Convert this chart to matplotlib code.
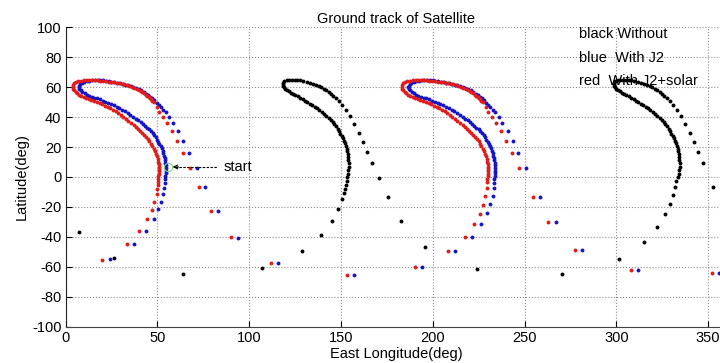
import matplotlib
matplotlib.use('Agg')
import matplotlib.pyplot as plt

plt.rcParams['font.family'] = ['Liberation Sans', 'DejaVu Sans']
plt.rcParams['axes.unicode_minus'] = False

# ---------------- data (lon, lat) ----------------
black_loop1_inner = [(118.3,61.0),(118.8,59.9),(119.6,58.9),(120.6,58.0),(121.7,57.1),(122.9,56.2),(124.0,55.3),(125.2,54.5),(126.5,53.7),(127.8,52.8),(129.1,51.9),(130.4,51.0),(131.7,50.0),(133.0,49.0),(134.3,48.0),(135.6,46.9),(136.9,45.8),(138.2,44.7),(139.5,43.5),(140.8,42.2),(142.0,40.9),(143.2,39.5),(144.3,38.1),(145.4,36.7),(146.4,35.2),(147.3,33.7),(148.2,32.2),(149.0,30.6),(149.7,29.0),(150.4,27.4),(151.0,25.8),(151.6,24.2),(152.1,22.5),(152.6,20.8),(153.0,19.0),(153.4,17.2),(153.7,15.3),(153.9,13.4),(154.0,11.3),(154.1,9.1),(154.1,6.9),(153.9,4.5),(153.7,2.2),(153.4,0.2),(153.1,-2.6),(152.7,-5.3),(152.2,-7.8),(151.6,-10.4),(150.4,-14.9),(148.2,-21.6),(144.9,-29.3),(138.9,-38.7),(128.9,-49.3),(107.0,-60.9),(64.1,-64.7)]
black_loop1_outer = [(118.2,62.0),(118.4,63.0),(119.2,63.8),(120.4,64.4),(121.8,64.7),(123.3,64.8),(124.8,64.8),(126.3,64.7),(127.8,64.5),(129.5,64.0),(131.3,63.5),(133.0,62.9),(134.7,62.2),(136.3,61.4),(137.8,60.6),(139.2,59.7),(140.6,58.8),(142.0,57.8),(143.3,56.8),(144.5,55.6),(145.6,54.3),(147.2,52.9),(148.8,50.9),(150.6,48.3),(152.6,45.0),(154.9,41.0),(157.3,35.5),(159.9,29.4),(161.8,23.6),(164.0,16.9),(167.1,9.1),(170.5,-0.9),(175.4,-13.5),(182.9,-29.5),(195.9,-46.9),(224.2,-61.6)]
black_loop2_inner = [(298.6,61.0),(299.1,59.9),(299.9,58.9),(300.9,58.0),(302.0,57.1),(303.2,56.2),(304.3,55.3),(305.5,54.5),(306.8,53.7),(308.1,52.8),(309.4,51.9),(310.7,51.0),(312.0,50.0),(313.3,49.0),(314.6,48.0),(315.9,46.9),(317.2,45.8),(318.5,44.7),(319.8,43.5),(321.1,42.2),(322.3,40.9),(323.5,39.5),(324.6,38.1),(325.7,36.7),(326.7,35.2),(327.6,33.7),(328.5,32.2),(329.3,30.6),(330.0,29.0),(330.7,27.4),(331.3,25.8),(331.9,24.2),(332.4,22.5),(332.9,20.8),(333.3,19.0),(333.7,17.2),(334.0,15.3),(334.2,13.4),(334.3,11.3),(334.4,9.1),(334.4,6.9),(334.2,4.5),(334.0,2.2),(333.4,0.0),(332.5,-2.7),(331.9,-6.9),(330.7,-12.0),(329.2,-18.0),(326.3,-24.7),(322.1,-33.1),(315.0,-43.3),(301.4,-54.9),(270.4,-64.4)]
black_loop2_outer = [(298.5,62.0),(298.7,63.0),(299.5,63.8),(300.7,64.4),(302.1,64.7),(303.6,64.8),(305.1,64.8),(306.6,64.7),(308.1,64.5),(309.8,64.0),(311.6,63.5),(313.3,62.9),(315.0,62.2),(316.6,61.4),(318.1,60.6),(319.5,59.7),(320.9,58.8),(322.3,57.8),(323.6,56.8),(324.8,55.6),(325.9,54.3),(327.5,52.9),(329.1,50.9),(330.9,48.3),(332.9,45.0),(335.2,41.0),(337.6,35.5),(340.2,29.4),(342.1,23.6),(344.3,16.9),(347.4,9.1),(352.4,-6.4),(7.5,-36.7),(26.4,-54.2)]

blue_loop1_outer = [(7.3,59.8),(7.4,60.8),(8.0,61.9),(9.0,62.8),(10.2,63.5),(11.6,64.0),(13.0,64.3),(14.5,64.5),(16.0,64.6),(17.5,64.6),(19.0,64.5),(20.5,64.4),(22.0,64.2),(23.5,63.9),(25.0,63.6),(26.5,63.2),(28.0,62.8),(29.5,62.4),(31.0,62.0),(32.5,61.6),(34.0,61.2),(35.5,60.7),(36.9,60.2),(38.3,59.5),(39.8,58.7),(41.2,57.7),(42.6,56.7),(43.9,55.6),(45.0,54.7),(46.2,53.6),(47.3,52.5),(48.4,51.2),(49.6,49.6),(50.8,48.0),(52.0,46.4),(53.3,44.8),(54.5,43.3),(56.5,39.8),(58.5,35.8),(61.4,30.4),(64.1,24.0),(67.2,15.8),(71.4,6.2),(75.9,-6.9),(82.8,-22.4),(93.7,-40.9),(115.9,-57.1),(157.1,-65.1)]
blue_loop1_inner = [(7.5,58.8),(8.2,57.7),(9.2,56.7),(10.3,55.7),(11.5,54.9),(12.8,54.2),(14.2,53.6),(15.6,53.0),(17.1,52.4),(18.7,51.8),(20.2,51.0),(21.7,50.2),(23.2,49.4),(24.7,48.6),(26.2,47.8),(27.8,46.9),(29.3,46.0),(30.8,45.0),(32.3,43.9),(33.8,42.8),(35.3,41.6),(36.9,40.2),(38.3,39.0),(39.7,37.8),(41.0,36.6),(42.2,35.4),(43.3,34.2),(44.4,33.0),(45.5,31.8),(46.5,30.5),(47.4,29.2),(48.3,27.8),(49.1,26.4),(49.8,25.0),(50.5,23.6),(51.1,22.2),(51.7,20.7),(52.3,19.1),(52.8,17.5),(53.2,15.9),(53.6,14.2),(53.9,12.6),(54.2,11.0),(54.4,9.4),(54.5,7.8),(54.6,6.0),(54.6,4.3),(54.5,2.5),(54.4,0.6),(54.2,-1.5),(54.0,-4.0),(53.7,-7.3),(53.2,-11.6),(52.0,-16.4),(50.3,-21.6),(48.0,-28.2),(43.8,-36.0),(37.3,-44.9),(24.2,-54.9)]
blue_loop2_outer = [(186.7,59.8),(186.8,60.8),(187.4,61.9),(188.4,62.8),(189.6,63.5),(191.0,64.0),(192.4,64.3),(193.9,64.5),(195.4,64.6),(196.9,64.6),(198.4,64.5),(199.9,64.4),(201.4,64.2),(202.9,63.9),(204.4,63.6),(205.9,63.2),(207.4,62.8),(208.9,62.4),(210.4,62.0),(211.9,61.6),(213.4,61.2),(214.9,60.7),(216.3,60.2),(217.7,59.5),(219.2,58.7),(220.6,57.7),(222.0,56.7),(223.3,55.6),(224.4,54.7),(225.6,53.6),(226.7,52.5),(227.8,51.2),(229.0,49.6),(230.2,48.0),(231.4,46.4),(232.7,44.8),(233.9,43.3),(235.9,39.8),(237.9,35.8),(240.8,30.4),(243.5,24.0),(246.6,15.8),(250.8,6.2),(258.4,-13.6),(266.9,-30.2),(281.4,-48.4),(311.6,-62.2),(355.7,-64.0)]
blue_loop2_inner = [(186.9,58.8),(187.6,57.7),(188.6,56.7),(189.7,55.7),(190.9,54.9),(192.2,54.2),(193.6,53.6),(195.0,53.0),(196.5,52.4),(198.1,51.8),(199.6,51.0),(201.1,50.2),(202.6,49.4),(204.1,48.6),(205.6,47.8),(207.2,46.9),(208.7,46.0),(210.2,45.0),(211.7,43.9),(213.2,42.8),(214.7,41.6),(216.3,40.2),(217.7,39.0),(219.1,37.8),(220.4,36.6),(221.6,35.4),(222.7,34.2),(223.8,33.0),(224.9,31.8),(225.9,30.5),(226.8,29.2),(227.7,27.8),(228.5,26.4),(229.2,25.0),(229.9,23.6),(230.5,22.2),(231.1,20.7),(231.7,19.1),(232.2,17.5),(232.6,15.9),(233.0,14.2),(233.3,12.6),(233.6,11.0),(233.8,9.4),(233.9,7.8),(234.0,6.0),(234.0,4.3),(233.9,2.5),(233.8,0.6),(233.6,-1.5),(233.5,-4.0),(233.5,-7.1),(232.6,-12.7),(231.2,-18.2),(229.4,-24.2),(226.3,-31.3),(221.3,-39.8),(212.3,-49.3),(194.3,-59.8)]

red_loop1_outer = [(4.2,60.2),(4.2,61.3),(4.8,62.4),(5.8,63.3),(7.0,63.9),(8.5,64.3),(10.0,64.5),(11.5,64.6),(13.0,64.6),(14.5,64.6),(16.0,64.5),(17.5,64.4),(19.0,64.2),(20.5,64.0),(22.0,63.8),(23.5,63.6),(25.0,63.4),(26.5,63.2),(27.8,63.0),(29.2,62.6),(30.6,62.1),(32.0,61.7),(33.3,61.2),(34.7,60.6),(36.0,60.0),(37.4,59.4),(38.7,58.7),(39.8,58.0),(40.8,57.2),(41.8,56.5),(42.7,55.8),(43.6,55.0),(44.5,54.3),(45.3,53.6),(46.0,52.9),(46.7,52.0),(47.3,51.0),(48.3,49.8),(50.0,46.9),(51.0,43.5),(53.2,40.2),(55.1,35.8),(58.1,30.4),(60.9,24.0),(63.8,16.2),(67.8,6.2),(72.7,-6.9),(79.2,-22.4),(90.1,-40.2),(111.9,-57.1),(153.1,-65.1)]
red_loop1_inner = [(4.3,59.0),(4.8,57.8),(5.5,56.7),(6.4,55.7),(7.4,54.8),(8.6,54.0),(9.9,53.3),(11.3,52.6),(12.7,52.0),(14.1,51.5),(15.5,51.0),(17.0,50.2),(18.5,49.4),(20.0,48.5),(21.5,47.6),(23.0,46.6),(24.4,45.7),(25.8,44.7),(27.2,43.7),(28.6,42.6),(30.0,41.5),(31.4,40.2),(32.8,38.9),(34.2,37.6),(35.6,36.2),(37.0,34.7),(38.3,33.3),(39.5,32.0),(40.6,30.7),(41.7,29.4),(42.8,28.0),(43.8,26.6),(44.8,25.2),(45.7,23.7),(46.5,22.2),(47.3,20.6),(48.0,19.0),(48.7,17.3),(49.3,15.5),(49.8,13.7),(50.2,11.9),(50.5,10.2),(50.7,8.5),(50.8,6.9),(50.8,5.3),(50.8,3.7),(50.7,2.1),(50.6,0.4),(50.5,-1.3),(50.3,-3.2),(50.1,-5.3),(49.9,-7.7),(49.6,-11.6),(48.3,-16.4),(46.9,-22.0),(44.2,-28.2),(40.1,-36.0),(33.3,-44.9),(20.0,-55.3)]
red_loop2_outer = [(183.4,60.2),(183.4,61.3),(184.0,62.4),(185.0,63.3),(186.2,63.9),(187.7,64.3),(189.2,64.5),(190.7,64.6),(192.2,64.6),(193.7,64.6),(195.2,64.5),(196.7,64.4),(198.2,64.2),(199.7,64.0),(201.2,63.8),(202.7,63.6),(204.2,63.4),(205.7,63.2),(207.0,63.0),(208.4,62.6),(209.8,62.1),(211.2,61.7),(212.5,61.2),(213.9,60.6),(215.2,60.0),(216.6,59.4),(217.9,58.7),(219.0,58.0),(220.0,57.2),(221.0,56.5),(221.9,55.8),(222.8,55.0),(223.7,54.3),(224.5,53.6),(225.2,52.9),(225.9,52.0),(226.5,51.0),(227.5,49.8),(229.2,46.9),(230.2,43.5),(232.4,40.2),(234.3,35.8),(237.3,30.4),(240.1,24.0),(243.0,16.2),(247.0,6.2),(254.7,-13.6),(262.9,-30.2),(277.6,-48.4),(307.8,-62.2),(352.1,-64.0)]
red_loop2_inner = [(183.5,59.0),(184.0,57.8),(184.7,56.7),(185.6,55.7),(186.6,54.8),(187.8,54.0),(189.1,53.3),(190.5,52.6),(191.9,52.0),(193.3,51.5),(194.7,51.0),(196.2,50.2),(197.7,49.4),(199.2,48.5),(200.7,47.6),(202.2,46.6),(203.6,45.7),(205.0,44.7),(206.4,43.7),(207.8,42.6),(209.2,41.5),(210.6,40.2),(212.0,38.9),(213.4,37.6),(214.8,36.2),(216.2,34.7),(217.5,33.3),(218.7,32.0),(219.8,30.7),(220.9,29.4),(222.0,28.0),(223.0,26.6),(224.0,25.2),(224.9,23.7),(225.7,22.2),(226.5,20.6),(227.2,19.0),(227.9,17.3),(228.5,15.5),(229.0,13.7),(229.4,11.9),(229.7,10.2),(229.9,8.5),(230.0,6.9),(230.0,5.3),(230.0,3.7),(229.9,2.1),(229.8,0.4),(229.7,-1.3),(229.5,-3.2),(229.3,-7.5),(228.6,-13.0),(227.3,-18.7),(225.5,-24.7),(222.4,-31.3),(217.4,-39.8),(208.3,-49.3),(190.3,-59.8)]

x_ticks = [0, 50, 100, 150, 200, 250, 300, 350]
y_ticks = [-100, -80, -60, -40, -20, 0, 20, 40, 60, 80, 100]
legend_lines = ['black Without', 'blue  With J2', 'red  With J2+solar']
start_point = (56.0, 6.9)

# ---------------- figure ----------------
fig = plt.figure(figsize=(7.2, 3.63), dpi=100)
ax = fig.add_axes([0.0911, 0.0992, 0.918, 0.8264])

def draw(groups, color):
    for g in groups:
        lon = [p[0] for p in g]
        lat = [p[1] for p in g]
        ax.plot(lon, lat, linestyle='none', marker='o', ms=2.8, mew=0,
                color=color, clip_on=True)

draw([black_loop1_inner, black_loop1_outer, black_loop2_inner, black_loop2_outer], '#000000')
draw([blue_loop1_outer, blue_loop1_inner, blue_loop2_outer, blue_loop2_inner], '#1414c8')
draw([red_loop1_outer, red_loop1_inner, red_loop2_outer, red_loop2_inner], '#e01c1c')

# start marker and arrow
ax.plot([start_point[0]], [start_point[1]], marker='o', ms=6, mfc='none',
        mec='#7fd27f', mew=0.8, linestyle='none')
ax.plot([59.5, 82.2], [6.7, 6.7], color='k', lw=0.8, dashes=(2.2, 1.3))
ax.annotate('', xy=(58.3, 6.7), xytext=(61.5, 6.7),
            arrowprops=dict(arrowstyle='->', color='k', lw=0.8,
                            shrinkA=0, shrinkB=0, mutation_scale=7))
ax.text(86.3, 6.7, 'start', fontsize=10.5, va='center', ha='left')

for i, s in enumerate(legend_lines):
    ax.text(279.6, 95.1 - 15.5 * i, s, fontsize=10.5, va='center', ha='left')

ax.set_xlim(0, 360)
ax.set_ylim(-100, 100)
ax.set_xticks(x_ticks)
ax.set_yticks(y_ticks)
ax.tick_params(direction='in', length=4, width=0.8, labelsize=10.5,
               top=False, right=False, pad=3)
ax.grid(True, linestyle=':', color='#8c8c8c', linewidth=0.8)
ax.set_axisbelow(True)
for s in ['top', 'right']:
    ax.spines[s].set_visible(False)
ax.spines['left'].set_color('#222222')
ax.spines['bottom'].set_color('#444444')

ax.set_title('Ground track of Satellite', fontsize=10.5, pad=3)
ax.set_xlabel('East Longitude(deg)', fontsize=10.5, labelpad=1)
ax.set_ylabel('Latitude(deg)', fontsize=10.5, labelpad=2)

fig.savefig('out.png', dpi=100)
